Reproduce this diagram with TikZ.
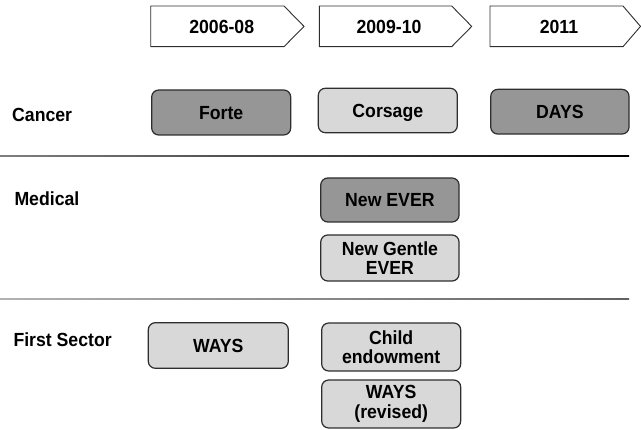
\documentclass[tikz,border=0pt]{standalone}
\usepackage{fontspec}
\setmainfont[FakeStretch=0.93]{Liberation Sans}
\definecolor{boxdark}{HTML}{969696}
\definecolor{boxlight}{HTML}{D8D8D8}
\definecolor{edge}{HTML}{2E2E2E}
\begin{document}
\begin{tikzpicture}[x=1pt,y=-1pt,
  every node/.style={font=\fontsize{19}{19.5}\selectfont\bfseries, inner sep=0pt},
  period/.style={draw=edge, line width=0.9pt, fill=white, line join=miter},
  periodtext/.style={text height=13.6pt, text depth=0pt},
  progbox/.style={draw=edge, line width=1.2pt, rounded corners=7pt, align=center},
  darkbox/.style={progbox, fill=boxdark, text height=13.6pt, text depth=0pt},
  lightbox/.style={progbox, fill=boxlight},
  lightone/.style={lightbox, text height=13.6pt, text depth=0pt},
  rowlabel/.style={anchor=base west}
]
\useasboundingbox (0,0) rectangle (641,430);

% period chevrons along the top
\draw[period] (150.7,6) -- (284,6) -- (304,26.4) -- (284,46.7) -- (150.7,46.7) -- cycle;
\draw[period] (319.3,6) -- (451.7,6) -- (471.7,26.4) -- (451.7,46.7) -- (319.3,46.7) -- cycle;
\draw[period] (490,6) -- (623,6) -- (640.5,26.4) -- (623,46.7) -- (490,46.7) -- cycle;
\node[periodtext] (p1) at (221.7,27) {2006-08};
\node[periodtext] (p2) at (389,27) {2009-10};
\node[periodtext] (p3) at (559,27) {2011};

% row separators
\shade[left color=black!50, right color=black] (0,155.2) rectangle (629,157);
\shade[left color=black!30, right color=black!62] (0,298.2) rectangle (629,300);

% row labels
\node[rowlabel] (cancer) at (12,121.5) {Cancer};
\node[rowlabel] (medical) at (14.3,206) {Medical};
\node[rowlabel] (first) at (13.3,347) {First Sector};

% Cancer row
\node[darkbox, minimum width=139pt, minimum height=45pt] (forte) at (221.2,112.5) {Forte};
\node[lightone, minimum width=139pt, minimum height=44.4pt] (corsage) at (387.8,110.5) {Corsage};
\node[darkbox, minimum width=138.3pt, minimum height=44.7pt] (days) at (559.9,111.7) {DAYS};

% Medical row
\node[darkbox, minimum width=138.3pt, minimum height=44pt] (newever) at (389.9,200) {New EVER};
\node[lightbox, minimum width=138.3pt, minimum height=46pt] (gentle) at (389.9,258) {New Gentle\\EVER};

% First Sector row
\node[lightone, minimum width=140pt, minimum height=45.6pt] (ways) at (218.3,345.5) {WAYS};
\node[lightbox, minimum width=139pt, minimum height=48pt] (child) at (391.2,347) {Child\\endowment};
\node[lightbox, minimum width=139pt, minimum height=48pt] (waysrev) at (391.2,404) {WAYS\\(revised)};
\end{tikzpicture}
\end{document}
